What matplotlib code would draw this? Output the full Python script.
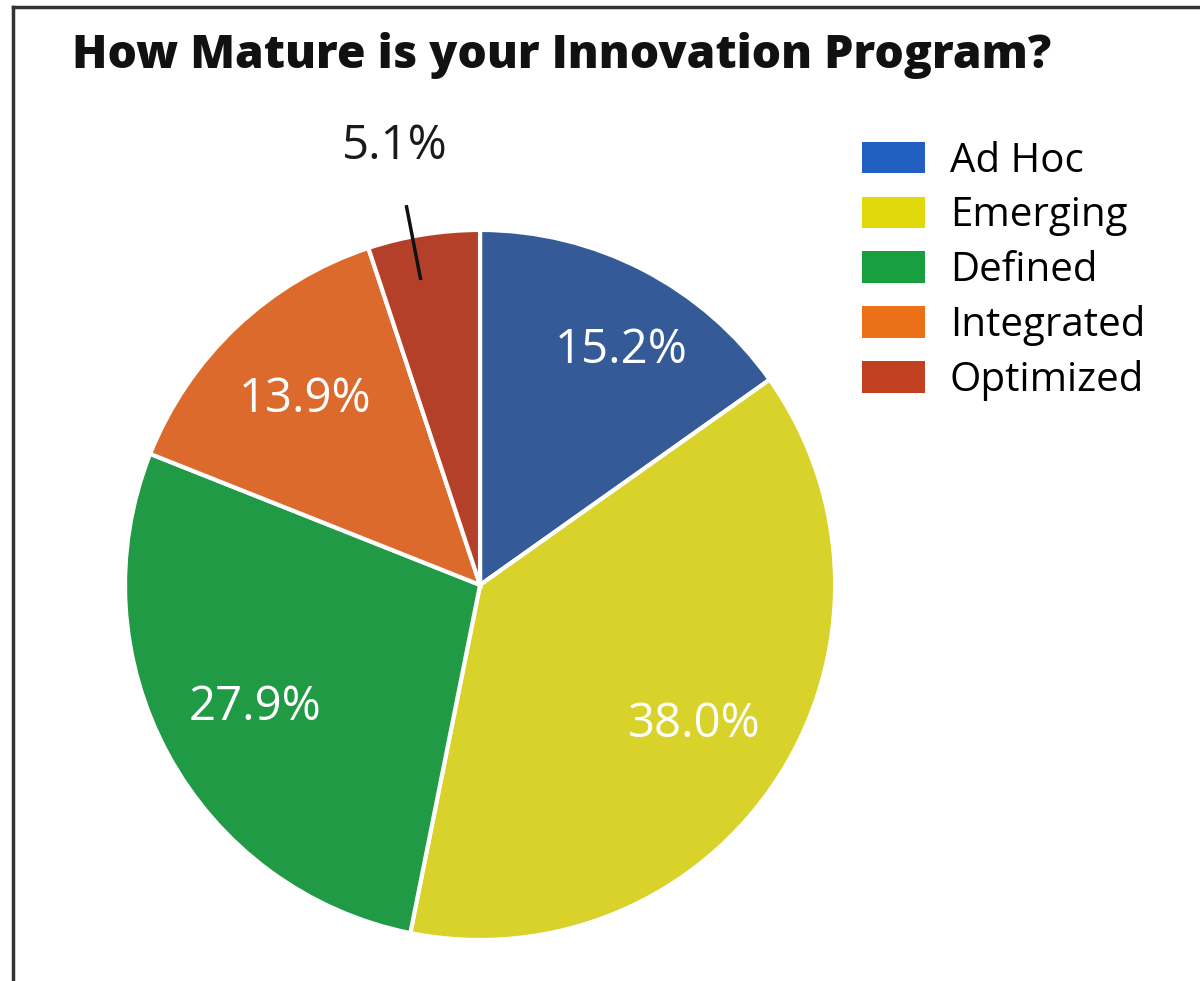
import numpy as np
import matplotlib
matplotlib.use("Agg")
import matplotlib.pyplot as plt
from matplotlib.patches import Patch
from matplotlib.lines import Line2D

plt.rcParams['font.family'] = ['Open Sans', 'DejaVu Sans']

categories = ["Ad Hoc", "Emerging", "Defined", "Integrated", "Optimized"]
shares = [15.2, 38.0, 27.9, 13.9, 5.1]
pie_colors = ["#345A98", "#D8D22A", "#209A45", "#DC6A2C", "#B5402A"]
legend_colors = ["#2160C0", "#E0D80A", "#18A040", "#EC7018", "#C04020"]

fig = plt.figure(figsize=(12, 9.81), dpi=100)
ax = fig.add_axes([0.1042, 0.0418, 0.5917, 0.7238])

wedges, texts, autotexts = ax.pie(
    shares, colors=pie_colors, startangle=90, counterclock=False,
    autopct="%.1f%%", pctdistance=0.72,
    wedgeprops=dict(edgecolor="white", linewidth=3),
    textprops=dict(color="white", fontsize=34, fontweight=500))
ax.set_xlim(-1, 1)
ax.set_ylim(-1, 1)
ax.set_aspect("equal")

# first label sits a bit further out, nearer the right edge of its slice
ang0 = np.deg2rad(59)
autotexts[0].set_position((0.77 * np.cos(ang0), 0.77 * np.sin(ang0)))

# small slice: label outside with a leader line
ang = np.deg2rad(101)
ax.add_line(Line2D([0.88 * np.cos(ang), 1.085 * np.cos(ang)],
                   [0.88 * np.sin(ang), 1.085 * np.sin(ang)],
                   color="#111111", lw=2.5, clip_on=False))
autotexts[-1].set_position((1.26 * np.cos(ang), 1.26 * np.sin(ang)))
autotexts[-1].set_color("#1a1a1a")
autotexts[-1].set_fontweight("normal")

fig.text(0.06, 0.9307, "How Mature is your Innovation Program?",
         fontsize=33.3, fontweight=800, color="#111111", va="baseline")

handles = [Patch(facecolor=c, edgecolor="none") for c in legend_colors]
fig.legend(handles, categories, loc="upper left", bbox_to_anchor=(0.688, 0.893),
           frameon=False, fontsize=29, handlelength=1.56, handleheight=0.82,
           handletextpad=0.62, labelspacing=0.35)

# image frame lines (left and top)
fig.add_artist(Line2D([0.0105, 0.0105], [0, 0.993], color="#333333", lw=2.5))
fig.add_artist(Line2D([0.0105, 1], [0.993, 0.993], color="#333333", lw=2.5))

fig.savefig("out.png", dpi=100)
